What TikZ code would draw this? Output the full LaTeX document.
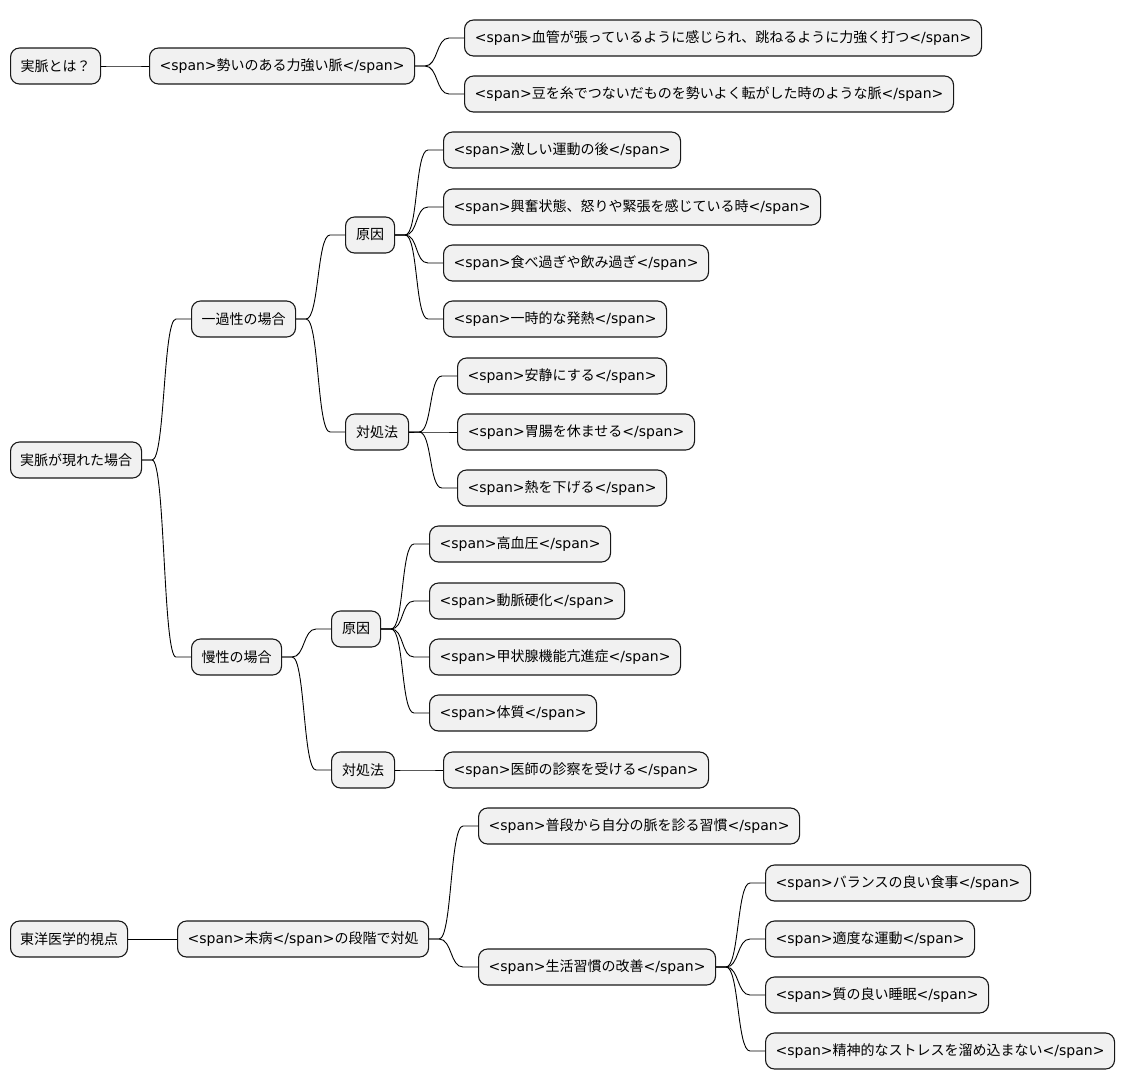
\documentclass[tikz,border=0pt]{standalone}
\usepackage{fontspec}
\setmainfont{DejaVu Sans}
\newfontfamily\cjkfont{Noto Sans CJK JP}
\newfontfamily\latinfont{DejaVu Sans}
\XeTeXinterchartokenstate=1
\newXeTeXintercharclass\mycjkclass
\count255="3000
\loop
  \XeTeXcharclass\count255=\mycjkclass
  \advance\count255 by 1
\ifnum\count255<"A000 \repeat
\count255="FF00
\loop
  \XeTeXcharclass\count255=\mycjkclass
  \advance\count255 by 1
\ifnum\count255<"FFF0 \repeat
\XeTeXinterchartoks 0 \mycjkclass = {\cjkfont}
\XeTeXinterchartoks 4095 \mycjkclass = {\cjkfont}
\XeTeXinterchartoks \mycjkclass 0 = {\latinfont}
\definecolor{boxfill}{HTML}{F1F1F1}
\definecolor{boxline}{HTML}{181818}
\tikzset{
  box/.style={draw=boxline, fill=boxfill, rounded corners=9pt, line width=1.1pt,
    minimum height=36pt, anchor=west, inner xsep=0pt, inner ysep=0pt,
    font=\fontsize{14pt}{17pt}\selectfont},
  conn/.style={draw=black, line width=0.9pt}
}
\newcommand\conn[2]{\draw[conn] (#1.east) -- ++(10pt,0) .. controls +(13pt,0) and +(-13pt,0) .. ([xshift=-15pt]#2.west) -- (#2.west);}
\begin{document}
\begin{tikzpicture}[x=1pt,y=-1pt]
\useasboundingbox (0,0) rectangle (1125,1090);
% group 1
\node[box, minimum width=90pt] (a0) at (10,66) {実脈とは？};
\node[box, minimum width=265pt] (a1) at (149,66) {<span>勢いのある力強い脈</span>};
\node[box, minimum width=517pt] (a11) at (464,38) {<span>血管が張っているように感じられ、跳ねるように力強く打つ</span>};
\node[box, minimum width=489pt] (a12) at (464,94) {<span>豆を糸でつないだものを勢いよく転がした時のような脈</span>};
% group 2
\node[box, minimum width=131pt] (b0) at (10,460) {実脈が現れた場合};
\node[box, minimum width=104pt] (b1) at (191,319) {一過性の場合};
\node[box, minimum width=49pt] (b11) at (345,235) {原因};
\node[box, minimum width=237pt] (b111) at (443,150) {<span>激しい運動の後</span>};
\node[box, minimum width=377pt] (b112) at (443,207) {<span>興奮状態、怒りや緊張を感じている時</span>};
\node[box, minimum width=265pt] (b113) at (443,263) {<span>食べ過ぎや飲み過ぎ</span>};
\node[box, minimum width=223pt] (b114) at (443,319) {<span>一時的な発熱</span>};
\node[box, minimum width=63pt] (b12) at (345,432) {対処法};
\node[box, minimum width=209pt] (b121) at (457,376) {<span>安静にする</span>};
\node[box, minimum width=237pt] (b122) at (457,432) {<span>胃腸を休ませる</span>};
\node[box, minimum width=209pt] (b123) at (457,488) {<span>熱を下げる</span>};
\node[box, minimum width=90pt] (b2) at (191,657) {慢性の場合};
\node[box, minimum width=49pt] (b21) at (331,629) {原因};
\node[box, minimum width=181pt] (b211) at (429,544) {<span>高血圧</span>};
\node[box, minimum width=195pt] (b212) at (429,601) {<span>動脈硬化</span>};
\node[box, minimum width=251pt] (b213) at (429,657) {<span>甲状腺機能亢進症</span>};
\node[box, minimum width=167pt] (b214) at (429,713) {<span>体質</span>};
\node[box, minimum width=63pt] (b22) at (331,770) {対処法};
\node[box, minimum width=265pt] (b221) at (443,770) {<span>医師の診察を受ける</span>};
% group 3
\node[box, minimum width=117pt] (c0) at (10,939) {東洋医学的視点};
\node[box, minimum width=251pt] (c1) at (177,939) {<span>未病</span>の段階で対処};
\node[box, minimum width=321pt] (c11) at (478,826) {<span>普段から自分の脈を診る習慣</span>};
\node[box, minimum width=237pt] (c12) at (478,967) {<span>生活習慣の改善</span>};
\node[box, minimum width=265pt] (c121) at (765,883) {<span>バランスの良い食事</span>};
\node[box, minimum width=209pt] (c122) at (765,939) {<span>適度な運動</span>};
\node[box, minimum width=223pt] (c123) at (765,995) {<span>質の良い睡眠</span>};
\node[box, minimum width=349pt] (c124) at (765,1051) {<span>精神的なストレスを溜め込まない</span>};
% connectors
\conn{a0}{a1}\conn{a1}{a11}\conn{a1}{a12}
\conn{b0}{b1}\conn{b0}{b2}
\conn{b1}{b11}\conn{b1}{b12}
\conn{b11}{b111}\conn{b11}{b112}\conn{b11}{b113}\conn{b11}{b114}
\conn{b12}{b121}\conn{b12}{b122}\conn{b12}{b123}
\conn{b2}{b21}\conn{b2}{b22}
\conn{b21}{b211}\conn{b21}{b212}\conn{b21}{b213}\conn{b21}{b214}
\conn{b22}{b221}
\conn{c0}{c1}\conn{c1}{c11}\conn{c1}{c12}
\conn{c12}{c121}\conn{c12}{c122}\conn{c12}{c123}\conn{c12}{c124}
\end{tikzpicture}
\end{document}
